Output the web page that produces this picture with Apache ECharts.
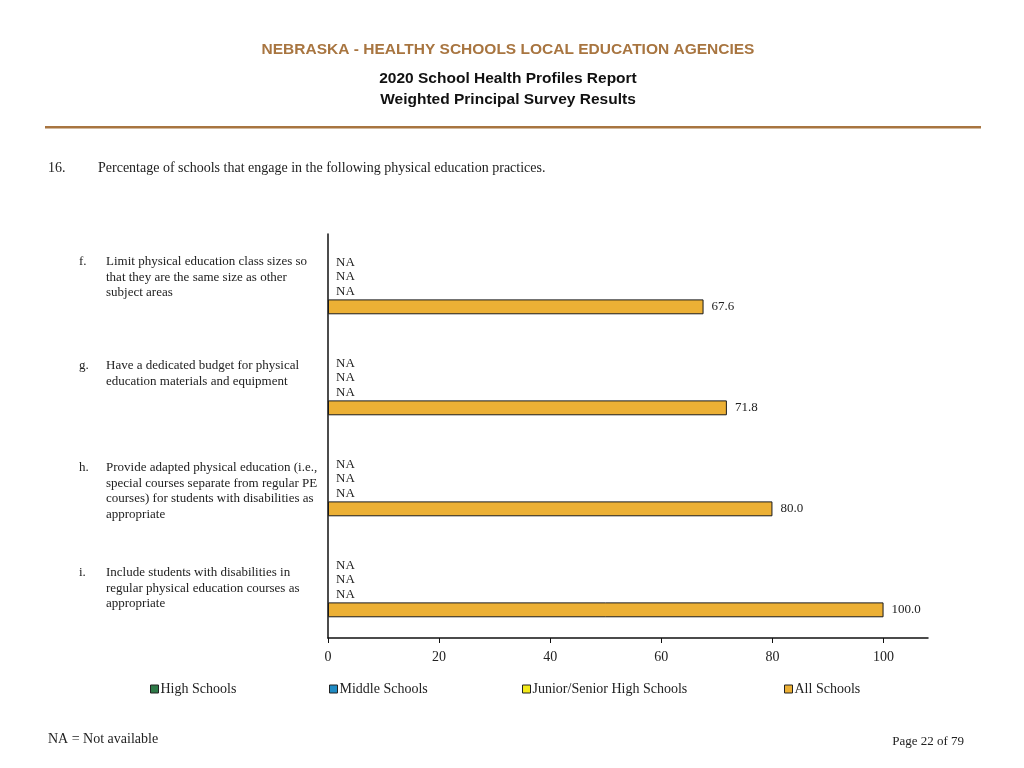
<!DOCTYPE html>
<html><head><meta charset="utf-8">
<script src="https://cdn.jsdelivr.net/npm/echarts@6/dist/echarts.min.js"></script>
<style>html,body{margin:0;padding:0;background:#fff}#c{width:1024px;height:768px}</style>
</head><body><div id="c"></div>
<script>
const categories = ['f', 'g', 'h', 'i'];
const seriesNames = ['High Schools', 'Middle Schools', 'Junior/Senior High Schools', 'All Schools'];
const highSchools = [null, null, null, null];
const middleSchools = [null, null, null, null];
const juniorSeniorHigh = [null, null, null, null];
const allSchools = [67.6, 71.8, 80.0, 100.0];
const xTicks = [0, 20, 40, 60, 80, 100];
const questionLabels = [
  ['f.', ['Limit physical education class sizes so', 'that they are the same size as other', 'subject areas']],
  ['g.', ['Have a dedicated budget for physical', 'education materials and equipment']],
  ['h.', ['Provide adapted physical education (i.e.,', 'special courses separate from regular PE', 'courses) for students with disabilities as', 'appropriate']],
  ['i.', ['Include students with disabilities in', 'regular physical education courses as', 'appropriate']]
];
const labelTops = [261, 365, 467, 572];
const colors = ['#2e7a48', '#1f8bc4', '#f3ea1a', '#ecb035'];
const serif = 'Liberation Serif, Times New Roman, serif';
const sans = 'Liberation Sans, Arial, sans-serif';

const chart = echarts.init(document.getElementById('c'), null, {renderer: 'canvas'});

const seriesData = [highSchools, middleSchools, juniorSeniorHigh, allSchools];
const series = seriesData.map((arr, si) => ({
  name: seriesNames[si],
  type: 'bar',
  barGap: '0%',
  barCategoryGap: '41%',
  data: arr.map(v => v == null
    ? {value: 0, na: true, itemStyle: {borderWidth: 0, color: 'rgba(0,0,0,0)'}}
    : {value: v}),
  itemStyle: {color: colors[si], borderColor: '#1a1a1a', borderWidth: 1},
  label: {
    show: true, position: 'right', distance: 8,
    fontFamily: serif, fontSize: 13, color: '#222',
    formatter: p => p.data.na ? 'NA' : p.value.toFixed(1)
  },
  emphasis: {disabled: true},
  animation: false
}));

const graphics = [];
graphics.push({type: 'text', x: 508, y: 42, style: {text: 'NEBRASKA - HEALTHY SCHOOLS LOCAL EDUCATION AGENCIES', font: 'bold 15.5px ' + sans, fill: '#a87540', textAlign: 'center'}});
graphics.push({type: 'text', x: 508, y: 71, style: {text: '2020 School Health Profiles Report', font: 'bold 15.5px ' + sans, fill: '#111', textAlign: 'center'}});
graphics.push({type: 'text', x: 508, y: 92, style: {text: 'Weighted Principal Survey Results', font: 'bold 15.5px ' + sans, fill: '#111', textAlign: 'center'}});
graphics.push({type: 'rect', shape: {x: 45, y: 126, width: 936, height: 2.5}, style: {fill: '#a87540'}});
graphics.push({type: 'text', x: 48, y: 161, style: {text: '16.', font: '14px ' + serif, fill: '#222'}});
graphics.push({type: 'text', x: 98, y: 161, style: {text: 'Percentage of schools that engage in the following physical education practices.', font: '14px ' + serif, fill: '#222'}});
questionLabels.forEach((q, i) => {
  graphics.push({type: 'text', x: 79, y: labelTops[i] - 7, style: {text: q[0], font: '13px ' + serif, lineHeight: 15.5, fill: '#222'}});
  graphics.push({type: 'text', x: 106, y: labelTops[i] - 7, style: {text: q[1].join('\n'), font: '13px ' + serif, lineHeight: 15.5, fill: '#222'}});
});
graphics.push({type: 'text', x: 48, y: 732, style: {text: 'NA = Not available', font: '14px ' + serif, fill: '#222'}});
graphics.push({type: 'text', right: 60, top: 735, style: {text: 'Page 22 of 79', font: '13px ' + serif, fill: '#222'}});

const legendLefts = [145, 324, 517, 779];
const legends = seriesNames.map((n, i) => ({
  data: [n], left: legendLefts[i], top: 677, icon: 'rect', itemWidth: 8, itemHeight: 8,
  itemStyle: {borderColor: '#222', borderWidth: 1},
  textStyle: {fontFamily: serif, fontSize: 14, color: '#222', padding: [0, 0, 0, -3]},
  selectedMode: false
}));

chart.setOption({
  animation: false,
  backgroundColor: '#fff',
  grid: {left: 328, right: 96, top: 234, bottom: 130, containLabel: false},
  legend: legends,
  xAxis: {
    type: 'value', min: 0, max: 108, interval: 20,
    splitLine: {show: false},
    axisLine: {show: true, lineStyle: {color: '#111', width: 1.5}},
    axisTick: {show: true, length: 5, lineStyle: {color: '#111'}, customValues: xTicks},
    axisLabel: {fontFamily: serif, fontSize: 14, color: '#222', margin: 12, customValues: xTicks}
  },
  yAxis: {
    type: 'category', data: categories, inverse: true,
    axisLine: {show: true, lineStyle: {color: '#111', width: 1.5}},
    axisTick: {show: false},
    axisLabel: {show: false}
  },
  series: series,
  graphic: graphics
});
</script>
</body></html>
